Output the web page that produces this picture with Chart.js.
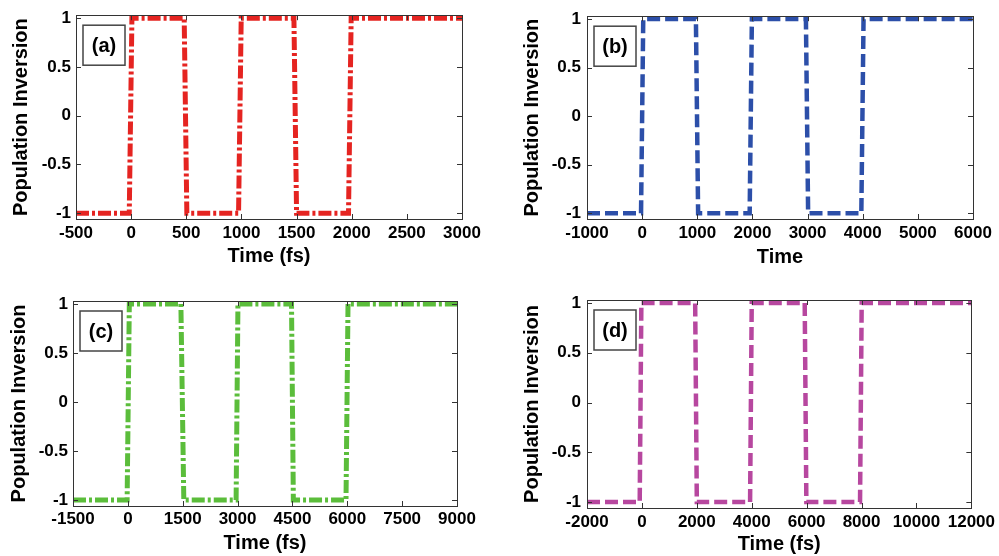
<!DOCTYPE html>
<html>
<head>
<meta charset="utf-8">
<script src="https://cdn.jsdelivr.net/npm/chart.js@4/dist/chart.umd.min.js"></script>
<style>
  html, body { margin: 0; padding: 0; background: #fff; }
  .panel { position: absolute; }
</style>
</head>
<body>
<div class="panel" style="left:0;top:0"><canvas id="chartA" width="499" height="278"></canvas></div>
<div class="panel" style="left:500px;top:0"><canvas id="chartB" width="499" height="278"></canvas></div>
<div class="panel" style="left:0;top:278px"><canvas id="chartC" width="499" height="278"></canvas></div>
<div class="panel" style="left:500px;top:278px"><canvas id="chartD" width="499" height="278"></canvas></div>
<script>
// values
const timeA = [-500, -17, 7, 481, 505, 974, 998, 1476, 1500, 1971, 1995, 3000];
const invA  = [-1, -1, 1, 1, -1, -1, 1, 1, -1, -1, 1, 1];
const timeB = [-1000, -20, 20, 975, 1015, 1950, 1990, 2970, 3010, 3975, 4015, 6000];
const invB  = [-1, -1, 1, 1, -1, -1, 1, 1, -1, -1, 1, 1];
const timeC = [-1500, -20, 40, 1450, 1530, 2960, 3010, 4475, 4525, 5965, 6020, 9000];
const invC  = [-1, -1, 1, 1, -1, -1, 1, 1, -1, -1, 1, 1];
const timeD = [-2000, -80, -20, 1940, 2000, 3940, 4000, 5930, 5990, 7945, 8005, 12000];
const invD  = [-1, -1, 1, 1, -1, -1, 1, 1, -1, -1, 1, 1];

const xTicksA = [-500, 0, 500, 1000, 1500, 2000, 2500, 3000];
const xTicksB = [-1000, 0, 1000, 2000, 3000, 4000, 5000, 6000];
const xTicksC = [-1500, 0, 1500, 3000, 4500, 6000, 7500, 9000];
const xTicksD = [-2000, 0, 2000, 4000, 6000, 8000, 10000, 12000];
const yTicks = [-1, -0.5, 0, 0.5, 1];

const FONT = "'Liberation Sans', Arial, sans-serif";

// matlab style box, inward ticks and the panel tag
const matlabFrame = {
  id: 'matlabFrame',
  afterDatasetsDraw(chart, args, opts) {
    const ctx = chart.ctx;
    const a = chart.chartArea;
    const x = chart.scales.x, y = chart.scales.y;
    ctx.save();
    ctx.strokeStyle = '#333';
    ctx.lineWidth = 1;
    ctx.beginPath();
    x.ticks.forEach(t => {
      const px = Math.round(x.getPixelForValue(t.value)) + 0.5;
      ctx.moveTo(px, a.bottom); ctx.lineTo(px, a.bottom - 5);
      ctx.moveTo(px, a.top); ctx.lineTo(px, a.top + 5);
    });
    y.ticks.forEach(t => {
      const py = Math.round(y.getPixelForValue(t.value)) + 0.5;
      ctx.moveTo(a.left, py); ctx.lineTo(a.left + 5, py);
      ctx.moveTo(a.right, py); ctx.lineTo(a.right - 5, py);
    });
    ctx.stroke();
    ctx.strokeRect(Math.round(a.left) + 0.5, Math.round(a.top) + 0.5,
                   Math.round(a.right - a.left), Math.round(a.bottom - a.top));
    // tag box
    const bx = a.left + 7, by = a.top + 10, bw = 42, bh = 40;
    ctx.fillStyle = '#fff';
    ctx.fillRect(bx, by, bw, bh);
    ctx.lineWidth = 1.5;
    ctx.strokeStyle = '#444';
    ctx.strokeRect(bx, by, bw, bh);
    ctx.fillStyle = '#000';
    ctx.font = 'bold 20px ' + FONT;
    ctx.textAlign = 'center';
    ctx.textBaseline = 'middle';
    ctx.fillText(opts.label, bx + bw / 2, by + bh / 2 + 1);
    ctx.restore();
  }
};

function makeChart(id, p) {
  return new Chart(document.getElementById(id), {
    type: 'line',
    data: {
      datasets: [{
        data: p.time.map((t, i) => ({ x: t, y: p.inv[i] })),
        borderColor: p.color,
        borderWidth: p.width,
        borderDash: p.dash,
        pointRadius: 0,
        tension: 0,
        fill: false
      }]
    },
    options: {
      responsive: false,
      animation: false,
      layout: { padding: { left: 0, top: p.top, right: p.right, bottom: 0 } },
      plugins: {
        legend: { display: false },
        tooltip: { enabled: false },
        matlabFrame: { label: p.label }
      },
      scales: {
        x: {
          type: 'linear',
          min: p.xTicks[0],
          max: p.xTicks[p.xTicks.length - 1],
          afterBuildTicks: s => { s.ticks = p.xTicks.map(v => ({ value: v })); },
          afterFit: s => { s.height = p.xH; },
          grid: { display: false, drawTicks: false },
          border: { display: false },
          ticks: {
            color: '#000', font: { family: FONT, size: 17, weight: 'bold' },
            padding: p.xPad, maxRotation: 0, autoSkip: false,
            callback: v => String(v)
          },
          title: {
            display: true, text: p.xTitle, color: '#000',
            font: { family: FONT, size: 20, weight: 'bold' },
            padding: { top: 0, bottom: p.xTitlePad }
          }
        },
        y: {
          min: -1.06,
          max: 1.03,
          afterBuildTicks: s => { s.ticks = yTicks.map(v => ({ value: v })); },
          afterFit: s => { s.width = p.yW; },
          grid: { display: false, drawTicks: false },
          border: { display: false },
          ticks: {
            color: '#000', font: { family: FONT, size: 17, weight: 'bold' },
            padding: p.yPad, callback: v => String(v)
          },
          title: {
            display: true, text: 'Population Inversion', color: '#000',
            font: { family: FONT, size: 20, weight: 'bold' },
            padding: { top: p.yTitlePad, bottom: 0 }
          }
        }
      }
    },
    plugins: [matlabFrame]
  });
}

makeChart('chartA', {
  time: timeA, inv: invA, xTicks: xTicksA, label: '(a)', xTitle: 'Time (fs)',
  color: '#e52421', width: 5, dash: [13, 3, 3, 3],
  top: 13, right: 37, yW: 76, xH: 59, xPad: 4, yPad: 5, xTitlePad: 10, yTitlePad: 9
});
makeChart('chartB', {
  time: timeB, inv: invB, xTicks: xTicksB, label: '(b)', xTitle: 'Time',
  color: '#2c4fa9', width: 4.5, dash: [13, 5],
  top: 13, right: 26, yW: 87, xH: 59, xPad: 4, yPad: 6, xTitlePad: 9, yTitlePad: 20
});
makeChart('chartC', {
  time: timeC, inv: invC, xTicks: xTicksC, label: '(c)', xTitle: 'Time (fs)',
  color: '#5bbd3b', width: 5, dash: [13, 3, 3, 3],
  top: 23, right: 42, yW: 73, xH: 50, xPad: 3, yPad: 5, xTitlePad: 1, yTitlePad: 7
});
makeChart('chartD', {
  time: timeD, inv: invD, xTicks: xTicksD, label: '(d)', xTitle: 'Time (fs)',
  color: '#b7479f', width: 4.5, dash: [13, 5],
  top: 22, right: 26, yW: 87, xH: 48, xPad: 4, yPad: 6, xTitlePad: 0, yTitlePad: 20
});
</script>
</body>
</html>
